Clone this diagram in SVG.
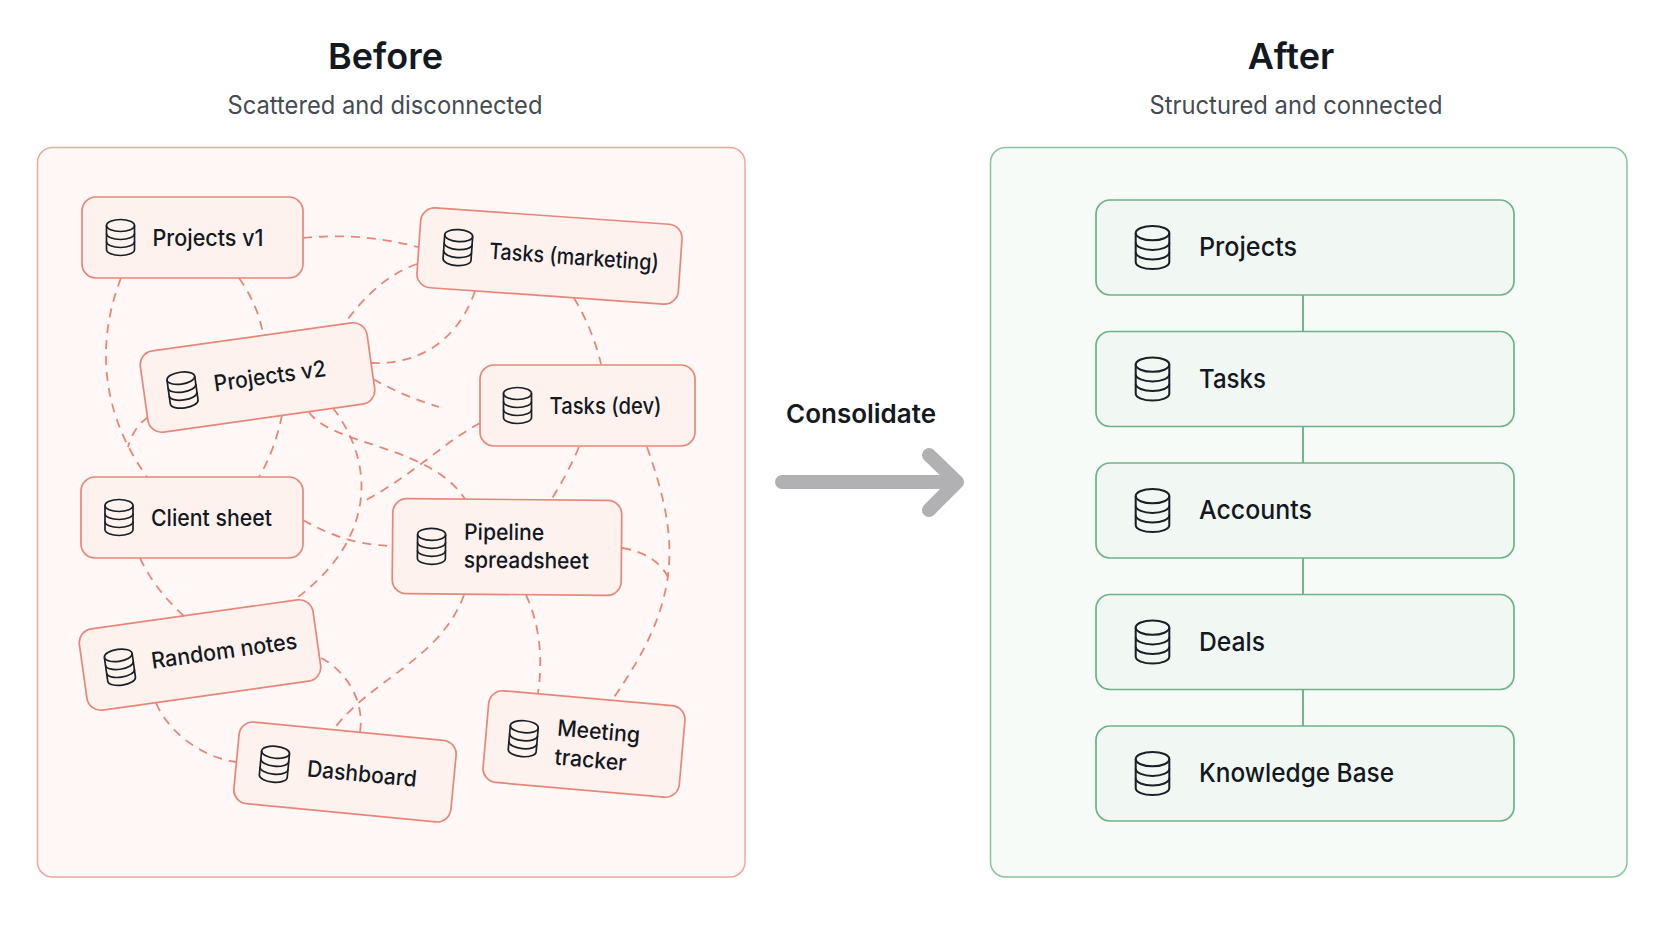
<svg xmlns="http://www.w3.org/2000/svg" width="1672" height="941" viewBox="0 0 1672 941">
<style>
text{font-family:Inter,"Liberation Sans",sans-serif;fill:#14181f}
.h{font-size:36px;font-weight:600;text-anchor:middle}
.s{font-size:25px;fill:#454b54;text-anchor:middle}
.l{font-size:22.5px;font-weight:500}
.a{font-size:26px;font-weight:500}
.c{font-size:26px;font-weight:600}
.bad{fill:#fef2ef;stroke:#e8867a;stroke-width:1.7}
.good{fill:#f1f7f3;stroke:#6fb287;stroke-width:1.7}
.dash{fill:none;stroke:#e8867a;stroke-width:1.8;stroke-dasharray:9 7}
.link{fill:none;stroke:#6fb287;stroke-width:1.9}
.db{fill:none;stroke:#1b1f26;stroke-width:1.7}
</style>
<defs>
<g id="db" class="db">
<ellipse cx="0" cy="-12" rx="14" ry="6"/>
<path d="M-14-12V12C-14 15.500-7.500 18 0 18S14 15.500 14 12V-12"/>
<path d="M-14-4C-14-.5-7.500 2 0 2S14-.5 14-4"/>
<path d="M-14 4C-14 7.500-7.500 10 0 10S14 7.500 14 4"/>
</g>
</defs>
<rect width="1672" height="941" fill="#ffffff"/>
<g id="heading-before"><text class="h" x="385.500" y="68.500">Before</text><text class="s" x="385" y="113.500" textLength="315" lengthAdjust="spacingAndGlyphs">Scattered and disconnected</text></g>
<g id="heading-after"><text class="h" x="1291" y="68.500">After</text><text class="s" x="1296" y="113.500" textLength="293" lengthAdjust="spacingAndGlyphs">Structured and connected</text></g>
<rect id="panel-before" x="37.500" y="147.500" width="707.500" height="729.500" rx="15" fill="#fff8f6" stroke="#f0a69c" stroke-width="1.5"/>
<rect id="panel-after" x="990.500" y="147.500" width="636.500" height="729.500" rx="15" fill="#f6fbf7" stroke="#8cc29e" stroke-width="1.5"/>
<g id="connectors">
<path class="dash" d="M303 238Q360 232 418 247"/>
<path class="dash" d="M417 264C390 273 365 295 345 323"/>
<path class="dash" d="M475 291C460 335 425 365 371 363"/>
<path class="dash" d="M574 298Q593 330 601 364"/>
<path class="dash" d="M121 278C97 340 99 410 147 477"/>
<path class="dash" d="M239 278Q258 305 263 334"/>
<path class="dash" d="M148 417Q133 428 128 447"/>
<path class="dash" d="M373 379Q405 397 439 407"/>
<path class="dash" d="M282 415Q275 450 259 477"/>
<path class="dash" d="M309 412C330 445 430 445 465 499"/>
<path class="dash" d="M333 408C380 470 370 545 294 600"/>
<path class="dash" d="M480 423C440 445 420 470 363 502"/>
<path class="dash" d="M303 520C330 535 355 545 392 546"/>
<path class="dash" d="M579 447Q567 475 551 500"/>
<path class="dash" d="M647 447C680 540 683 600 612 700"/>
<path class="dash" d="M622 548Q655 553 668 577"/>
<path class="dash" d="M140 558Q155 590 184 616"/>
<path class="dash" d="M464 595C440 660 370 680 334 729"/>
<path class="dash" d="M526 595C540 625 543 660 538 693"/>
<path class="dash" d="M321 658C345 670 365 700 360 732"/>
<path class="dash" d="M156 703C170 735 205 758 236 762"/>
<path class="link" d="M1303 294V332M1303 426V463M1303 557V594M1303 689V726"/>
</g>
<g id="consolidate-arrow">
<text class="c" x="786" y="422.500">Consolidate</text>
<path d="M782 482H955" fill="none" stroke="#b1b1b4" stroke-width="14" stroke-linecap="round"/>
<path d="M929 455L957 482L929 510" fill="none" stroke="#b1b1b4" stroke-width="14" stroke-linecap="round" stroke-linejoin="round"/>
</g>
<g id="projects-v1" transform="translate(192.500 237.500)"><rect class="bad" x="-110.500" y="-40.500" width="221" height="81" rx="14"/><use href="#db" x="-72" y="0"/><text class="l" x="-40" y="8" textLength="111" lengthAdjust="spacingAndGlyphs">Projects v1</text></g>
<g id="tasks-marketing" transform="translate(549.500 256) rotate(4)"><rect class="bad" x="-131" y="-40" width="262" height="80" rx="14"/><use href="#db" x="-92" y="-2"/><text class="l" x="-60.500" y="7" textLength="170" lengthAdjust="spacingAndGlyphs">Tasks (marketing)</text></g>
<g id="projects-v2" transform="translate(257.500 377.500) rotate(-8)"><rect class="bad" x="-114.500" y="-41" width="229" height="82" rx="14"/><use href="#db" x="-76" y="2"/><text class="l" x="-44" y="8" textLength="113" lengthAdjust="spacingAndGlyphs">Projects v2</text></g>
<g id="tasks-dev" transform="translate(587.500 405.500)"><rect class="bad" x="-107.500" y="-40.500" width="215" height="81" rx="14"/><use href="#db" x="-70" y="0"/><text class="l" x="-38" y="8" textLength="112" lengthAdjust="spacingAndGlyphs">Tasks (dev)</text></g>
<g id="client-sheet" transform="translate(192 517.500)"><rect class="bad" x="-111" y="-40.500" width="222" height="81" rx="14"/><use href="#db" x="-73" y="0"/><text class="l" x="-41" y="8" textLength="121" lengthAdjust="spacingAndGlyphs">Client sheet</text></g>
<g id="pipeline-spreadsheet" transform="translate(507 547) rotate(.5)"><rect class="bad" x="-114.500" y="-47.500" width="229" height="95" rx="14"/><use href="#db" x="-75.500" y="0"/><text class="l" x="-43" y="-7" textLength="80" lengthAdjust="spacingAndGlyphs">Pipeline</text><text class="l" x="-43" y="21" textLength="125" lengthAdjust="spacingAndGlyphs">spreadsheet</text></g>
<g id="random-notes" transform="translate(200 655) rotate(-8)"><rect class="bad" x="-118" y="-41" width="236" height="82" rx="14"/><use href="#db" x="-81" y="1"/><text class="l" x="-49" y="7" textLength="147" lengthAdjust="spacingAndGlyphs">Random notes</text></g>
<g id="dashboard" transform="translate(345 772) rotate(5.500)"><rect class="bad" x="-109" y="-41" width="218" height="82" rx="14"/><use href="#db" x="-71" y="-1"/><text class="l" x="-38" y="8" textLength="110" lengthAdjust="spacingAndGlyphs">Dashboard</text></g>
<g id="meeting-tracker" transform="translate(584 744) rotate(5)"><rect class="bad" x="-98.500" y="-46" width="197" height="92" rx="14"/><use href="#db" x="-61" y="0"/><text class="l" x="-28" y="-6" textLength="83" lengthAdjust="spacingAndGlyphs">Meeting</text><text class="l" x="-28" y="23" textLength="72" lengthAdjust="spacingAndGlyphs">tracker</text></g>
<g id="after-projects" transform="translate(1305 247.500)"><rect class="good" x="-209" y="-47.500" width="418" height="95" rx="14"/><use href="#db" transform="translate(-152.500 0) scale(1.2)"/><text class="a" x="-106" y="8.500" textLength="98" lengthAdjust="spacingAndGlyphs">Projects</text></g>
<g id="after-tasks" transform="translate(1305 379)"><rect class="good" x="-209" y="-47.500" width="418" height="95" rx="14"/><use href="#db" transform="translate(-152.500 0) scale(1.2)"/><text class="a" x="-106" y="8.500" textLength="67" lengthAdjust="spacingAndGlyphs">Tasks</text></g>
<g id="after-accounts" transform="translate(1305 510.500)"><rect class="good" x="-209" y="-47.500" width="418" height="95" rx="14"/><use href="#db" transform="translate(-152.500 0) scale(1.2)"/><text class="a" x="-106" y="8.500" textLength="113" lengthAdjust="spacingAndGlyphs">Accounts</text></g>
<g id="after-deals" transform="translate(1305 642)"><rect class="good" x="-209" y="-47.500" width="418" height="95" rx="14"/><use href="#db" transform="translate(-152.500 0) scale(1.2)"/><text class="a" x="-106" y="8.500" textLength="66" lengthAdjust="spacingAndGlyphs">Deals</text></g>
<g id="after-knowledge" transform="translate(1305 773.500)"><rect class="good" x="-209" y="-47.500" width="418" height="95" rx="14"/><use href="#db" transform="translate(-152.500 0) scale(1.2)"/><text class="a" x="-106" y="8.500" textLength="195" lengthAdjust="spacingAndGlyphs">Knowledge Base</text></g>
</svg>
